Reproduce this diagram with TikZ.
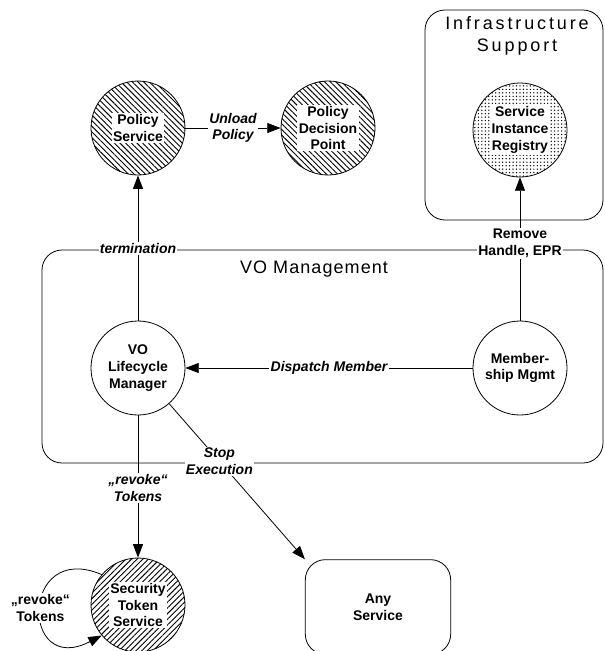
\documentclass[tikz,border=0pt]{standalone}
\usepackage{fontspec}
\setmainfont{Liberation Sans}
\usetikzlibrary{arrows.meta,patterns.meta,positioning}

\newcommand{\compfont}{\fontsize{10.5}{12.5}\selectfont\bfseries}
\newcommand{\grouptitlefont}{\fontsize{13.5}{16.5}\selectfont\addfontfeature{LetterSpace=16}}

\begin{document}
\begin{tikzpicture}[x=0.75pt, y=-0.75pt, line width=0.6pt,
  >={Triangle[length=10pt, width=7.5pt]},
  comp/.style={circle, draw, minimum size=70.5pt, inner sep=0pt,
    align=center, font=\compfont},
  tag/.style={fill=white, inner sep=1pt, align=center, font=\compfont},
  lbl/.style={tag, font=\compfont\itshape},
  group/.style={draw, rounded corners=15pt},
  title/.style={align=center, font=\grouptitlefont}]
\useasboundingbox (0,0) rectangle (605,651);

% groups
\draw[group] (425,10) rectangle (603,220);
\node[title] (infra) at (517,36) {Infrastructure\\Support};
\draw[group] (42,250) rectangle (603,463);
\node[title, font=\fontsize{13.5}{16}\selectfont\addfontfeature{LetterSpace=6}] (vomgmt) at (314,269) {VO Management};

% components
\node[comp, pattern={Lines[angle=-45, distance=3pt, line width=0.7pt]}] (ps) at (138,128) {};
\node[tag] (ps-txt) at (ps) {Policy\\Service};
\node[comp, pattern={Lines[angle=-45, distance=3pt, line width=0.7pt]}] (pdp) at (328,128) {};
\node[tag] (pdp-txt) at (pdp) {Policy\\Decision\\Point};
\node[comp, pattern={Dots[distance=2.6pt, radius=0.55pt]}] (sir) at (520,130) {};
\node[tag] (sir-txt) at (sir) {Service\\Instance\\Registry};
\node[comp] (vo) at (138,368) {VO\\Lifecycle\\Manager};
\node[comp] (mm) at (520,368) {Member-\\ship Mgmt};
\node[comp, pattern={Lines[angle=45, distance=3pt, line width=0.7pt]}] (sts) at (138,605) {};
\node[tag] (sts-txt) at (sts) {Security\\Token\\Service};
\node[draw, rounded corners=15pt, minimum width=109pt, minimum height=71pt,
  align=center, font=\compfont] (any) at (378,607) {Any\\Service};

% messages
\path[->]
(ps) edge node[lbl] {Unload\\Policy} (pdp)
(vo) edge node[lbl] {termination} (ps)
  edge node[lbl, pos=0.51] {„revoke“\\Tokens} (sts)
  edge node[lbl, pos=0.37] {Stop\\Execution} (any.north west)
(mm) edge node[lbl] {Dispatch Member} (vo)
  edge node[tag, pos=0.54] {Remove\\Handle, EPR} (sir);
\draw[->] (sts.140) .. controls (20,540) and (20,678) .. node[tag] {„revoke“\\Tokens} (sts.220);

\end{tikzpicture}
\end{document}
